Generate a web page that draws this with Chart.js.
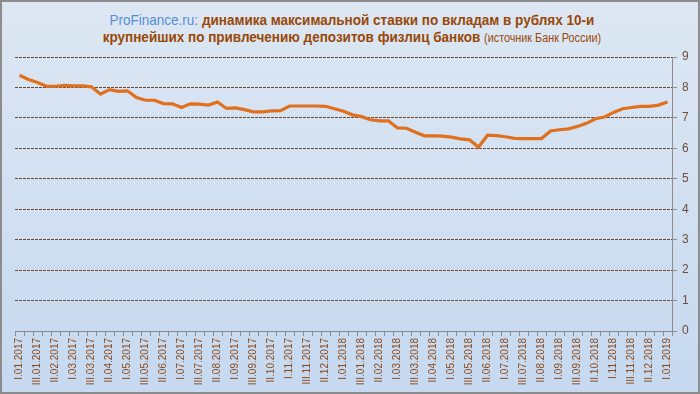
<!DOCTYPE html>
<html>
<head>
<meta charset="utf-8">
<script src="https://cdn.jsdelivr.net/npm/chart.js@4"></script>
<style>
  html, body { margin: 0; padding: 0; }
  #wrap {
    position: relative;
    width: 700px;
    height: 394px;
    box-sizing: border-box;
    border: 2px solid #8c8c8c;
    background: linear-gradient(to bottom, #dde7f3, #c6d9f0);
    overflow: hidden;
  }
  #title {
    position: absolute;
    left: 0; top: 9px;
    width: 700px;
    text-align: center;
    font-family: "Liberation Sans Narrow", "Liberation Sans", Arial, sans-serif;
    font-weight: bold;
    font-size: 15px;
    line-height: 17px;
    color: #984807;
    transform: scaleX(0.9);
    transform-origin: 349px 0;
  }
  #title .site { color: #558ed5; font-weight: normal; }
  #title .src { font-weight: normal; font-size: 12px; }
  canvas { position: absolute; left: -2px; top: -2px; }
</style>
</head>
<body>
<div id="wrap">
  <div id="title">
    <span class="site">ProFinance.ru:</span> динамика максимальной ставки по вкладам в рублях 10-и<br>
    крупнейших по привлечению депозитов физлиц банков <span class="src">(источник Банк России)</span>
  </div>
  <canvas id="chart" width="700" height="394"></canvas>
</div>
<script>
document.addEventListener('DOMContentLoaded', function() {
  // dekad labels (I, II, III of each month)
  const dekadLabels = [
    'I.01.2017', 'II.01.2017', 'III.01.2017', 'I.02.2017', 'II.02.2017', 'III.02.2017',
    'I.03.2017', 'II.03.2017', 'III.03.2017', 'I.04.2017', 'II.04.2017', 'III.04.2017',
    'I.05.2017', 'II.05.2017', 'III.05.2017', 'I.06.2017', 'II.06.2017', 'III.06.2017',
    'I.07.2017', 'II.07.2017', 'III.07.2017', 'I.08.2017', 'II.08.2017', 'III.08.2017',
    'I.09.2017', 'II.09.2017', 'III.09.2017', 'I.10.2017', 'II.10.2017', 'III.10.2017',
    'I.11.2017', 'II.11.2017', 'III.11.2017', 'I.12.2017', 'II.12.2017', 'III.12.2017',
    'I.01.2018', 'II.01.2018', 'III.01.2018', 'I.02.2018', 'II.02.2018', 'III.02.2018',
    'I.03.2018', 'II.03.2018', 'III.03.2018', 'I.04.2018', 'II.04.2018', 'III.04.2018',
    'I.05.2018', 'II.05.2018', 'III.05.2018', 'I.06.2018', 'II.06.2018', 'III.06.2018',
    'I.07.2018', 'II.07.2018', 'III.07.2018', 'I.08.2018', 'II.08.2018', 'III.08.2018',
    'I.09.2018', 'II.09.2018', 'III.09.2018', 'I.10.2018', 'II.10.2018', 'III.10.2018',
    'I.11.2018', 'II.11.2018', 'III.11.2018', 'I.12.2018', 'II.12.2018', 'III.12.2018',
    'I.01.2019'
  ];

  // max deposit rate, %
  const maxRate = [
    8.40, 8.26, 8.16, 8.04, 8.04, 8.07, 8.05, 8.05, 8.02, 7.78,
    7.93, 7.87, 7.89, 7.67, 7.58, 7.58, 7.47, 7.46, 7.34, 7.46,
    7.45, 7.42, 7.52, 7.31, 7.33, 7.27, 7.20, 7.20, 7.23, 7.24,
    7.39, 7.39, 7.39, 7.39, 7.38, 7.30, 7.22, 7.10, 7.04, 6.94,
    6.90, 6.90, 6.67, 6.66, 6.53, 6.41, 6.41, 6.40, 6.37, 6.31,
    6.28, 6.04, 6.43, 6.42, 6.38, 6.33, 6.32, 6.32, 6.32, 6.57,
    6.61, 6.64, 6.72, 6.82, 6.97, 7.03, 7.18, 7.30, 7.34, 7.38,
    7.38, 7.42, 7.52
  ];

  const yMin = 0;
  const yMax = 9;

  new Chart(document.getElementById('chart'), {
    type: 'line',
    data: {
      labels: dekadLabels,
      datasets: [{
        data: maxRate,
        borderColor: '#e0701e',
        borderWidth: 3.2,
        pointRadius: 0,
        tension: 0,
        fill: false
      }]
    },
    options: {
      responsive: false,
      animation: false,
      layout: { padding: { left: 15, top: 57, right: 0, bottom: 0 } },
      plugins: { legend: { display: false }, tooltip: { enabled: false } },
      scales: {
        x: {
          offset: true,
          afterFit: s => { s.height = 63; },
          grid: {
            offset: true,
            drawOnChartArea: false,
            drawTicks: true,
            tickLength: 5,
            tickColor: '#8c8c8c'
          },
          border: { display: true, color: '#8c8c8c', width: 1 },
          ticks: {
            autoSkip: false,
            minRotation: 90,
            maxRotation: 90,
            padding: 2,
            color: '#8b4a1c',
            font: { family: 'Liberation Sans', size: 10 },
            callback: function(val, idx) {
              return idx % 2 === 0 ? dekadLabels[idx] : '';
            }
          }
        },
        y: {
          position: 'right',
          min: yMin,
          max: yMax,
          afterFit: s => { s.width = 28; },
          grid: {
            color: ctx => ctx.tick && ctx.tick.value === 0 ? 'rgba(0,0,0,0)' : '#6a4530',
            lineWidth: 1,
            tickLength: 5,
            tickColor: '#8c8c8c'
          },
          border: { display: true, color: '#8c8c8c', width: 1, dash: [3, 1] },
          ticks: {
            stepSize: 1,
            padding: 5,
            color: '#6e4e3a',
            font: { family: 'Liberation Sans', size: 12 }
          }
        }
      }
    }
  });
});
</script>
</body>
</html>
